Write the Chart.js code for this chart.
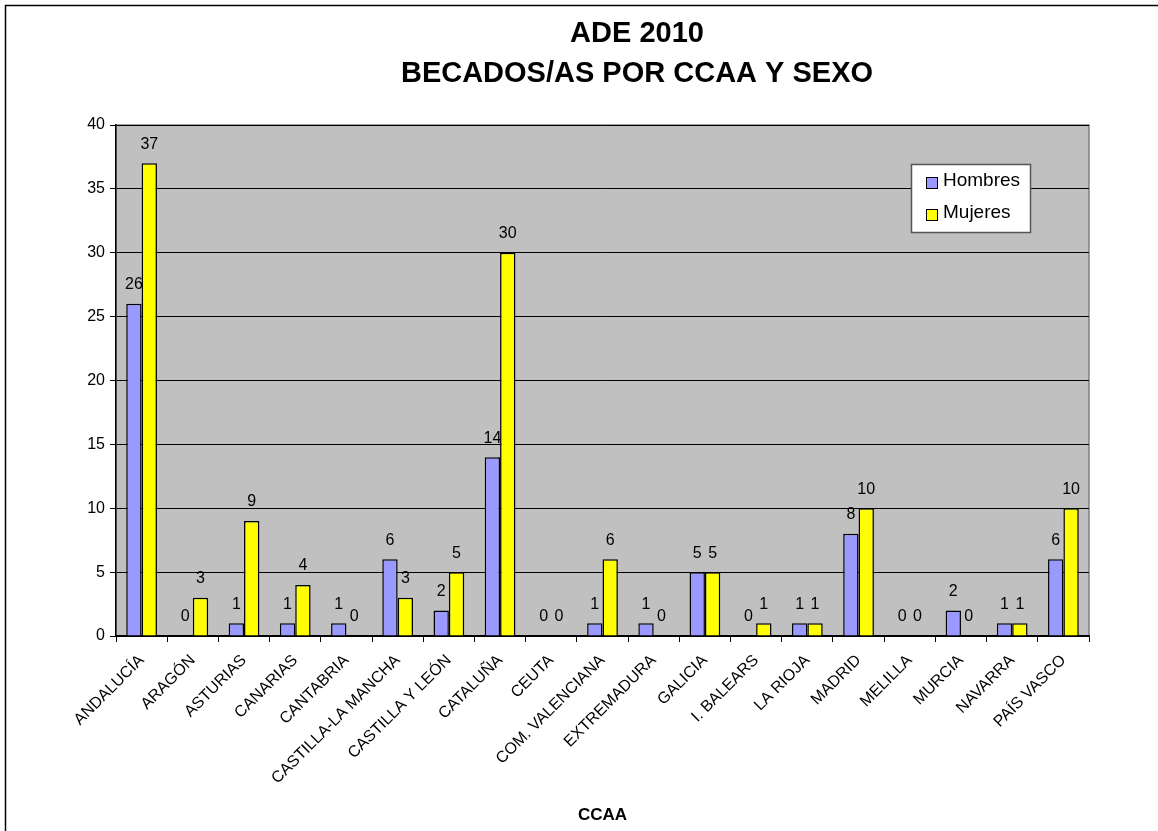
<!DOCTYPE html>
<html>
<head>
<meta charset="utf-8">
<style>
  html, body { margin: 0; padding: 0; background: #fff; }
  #wrap { width: 1158px; height: 831px; position: relative; }
</style>
<script src="https://cdn.jsdelivr.net/npm/chart.js@4"></script>
</head>
<body>
<div id="wrap"><canvas id="chart" width="1158" height="831"></canvas></div>
<script>
/* ── data ── */
const regions = ['ANDALUCÍA', 'ARAGÓN', 'ASTURIAS', 'CANARIAS', 'CANTABRIA', 'CASTILLA-LA MANCHA',
  'CASTILLA Y LEÓN', 'CATALUÑA', 'CEUTA', 'COM. VALENCIANA', 'EXTREMADURA', 'GALICIA',
  'I. BALEARS', 'LA RIOJA', 'MADRID', 'MELILLA', 'MURCIA', 'NAVARRA', 'PAÍS VASCO'];
const hombres = [26, 0, 1, 1, 1, 6, 2, 14, 0, 1, 1, 5, 0, 1, 8, 0, 2, 1, 6];
const mujeres = [37, 3, 9, 4, 0, 3, 5, 30, 0, 6, 0, 5, 1, 1, 10, 0, 0, 1, 10];
const titleLines = ['ADE 2010', 'BECADOS/AS POR CCAA Y SEXO'];
const yTicks = [0, 5, 10, 15, 20, 25, 30, 35, 40];

const font = 'Arial, "Liberation Sans", sans-serif';

/* ── plugins: frame, plot background, title, value labels, legend ── */
const decor = {
  id: 'decor',
  beforeDraw(chart) {
    const { ctx, chartArea: a } = chart;
    ctx.save();
    ctx.fillStyle = '#fff';
    ctx.fillRect(0, 0, chart.width, chart.height);
    ctx.strokeStyle = '#000';
    ctx.lineWidth = 1.5;
    ctx.strokeRect(5.5, 5.5, chart.width + 20, chart.height + 20);
    ctx.fillStyle = '#C0C0C0';
    ctx.fillRect(a.left, a.top, a.right - a.left, a.bottom - a.top);
    ctx.strokeStyle = '#808080';
    ctx.lineWidth = 1.5;
    ctx.strokeRect(a.left, a.top, a.right - a.left, a.bottom - a.top);
    // title
    ctx.fillStyle = '#000';
    ctx.font = 'bold 29px ' + font;
    ctx.textAlign = 'center';
    ctx.textBaseline = 'middle';
    ctx.fillText(titleLines[0], 637, 34);
    ctx.fillText(titleLines[1], 637, 74);
    ctx.restore();
  },
  afterDatasetsDraw(chart) {
    const { ctx } = chart;
    ctx.save();
    ctx.fillStyle = '#000';
    ctx.font = '16px ' + font;
    ctx.textAlign = 'center';
    ctx.textBaseline = 'middle';
    chart.data.datasets.forEach((ds, di) => {
      chart.getDatasetMeta(di).data.forEach((bar, i) => {
        ctx.fillText(String(ds.data[i]), bar.x, bar.y - 19);
      });
    });
    ctx.restore();
  },
  afterDraw(chart) {
    const { ctx } = chart;
    const x = 911, y = 164, w = 119, h = 68;
    ctx.save();
    ctx.fillStyle = '#fff';
    ctx.fillRect(x, y, w, h);
    ctx.strokeStyle = '#555';
    ctx.lineWidth = 1.5;
    ctx.strokeRect(x + 0.5, y + 0.5, w, h);
    ctx.font = '19px ' + font;
    ctx.textBaseline = 'middle';
    ctx.textAlign = 'left';
    chart.data.datasets.forEach((ds, i) => {
      const cy = y + 18 + i * 32;
      ctx.fillStyle = ds.backgroundColor;
      ctx.fillRect(x + 15, cy - 5, 11, 11);
      ctx.strokeStyle = '#000';
      ctx.lineWidth = 1;
      ctx.strokeRect(x + 15.5, cy - 4.5, 11, 11);
      ctx.fillStyle = '#000';
      ctx.fillText(ds.label, x + 32, cy - 1);
    });
    ctx.restore();
  }
};

new Chart(document.getElementById('chart'), {
  type: 'bar',
  data: {
    labels: regions,
    datasets: [
      { label: 'Hombres', data: hombres, backgroundColor: '#9999FF', borderColor: '#000', borderWidth: 1.5 },
      { label: 'Mujeres', data: mujeres, backgroundColor: '#FFFF00', borderColor: '#000', borderWidth: 1.5 }
    ]
  },
  options: {
    responsive: false,
    animation: false,
    devicePixelRatio: 1,
    layout: { padding: { top: 125, right: 69, bottom: 2, left: 0 } },
    datasets: { bar: { categoryPercentage: 0.6, barPercentage: 1.0 } },
    plugins: {
      legend: { display: false },
      title: { display: false },
      tooltip: { enabled: false }
    },
    scales: {
      x: {
        grid: { offset: true, drawOnChartArea: false, color: '#000', tickLength: 6 },
        border: { color: '#000', width: 1.5 },
        ticks: {
          color: '#000', font: { family: font, size: 16 },
          maxRotation: 45, minRotation: 45, autoSkip: false, padding: 9
        },
        title: {
          display: true, text: 'CCAA', color: '#000',
          font: { family: font, size: 17, weight: 'bold' },
          padding: { top: 0, bottom: 3 }
        },
        afterFit(scale) { scale.height = 193; }
      },
      y: {
        min: 0, max: 40,
        afterBuildTicks(scale) { scale.ticks = yTicks.map(v => ({ value: v })); },
        grid: { color: '#000', lineWidth: 1, tickLength: 6 },
        border: { color: '#000', width: 1.5 },
        ticks: { color: '#000', font: { family: font, size: 16 }, padding: 5 },
        afterFit(scale) { scale.width = 116; }
      }
    }
  },
  plugins: [decor]
});
</script>
</body>
</html>
